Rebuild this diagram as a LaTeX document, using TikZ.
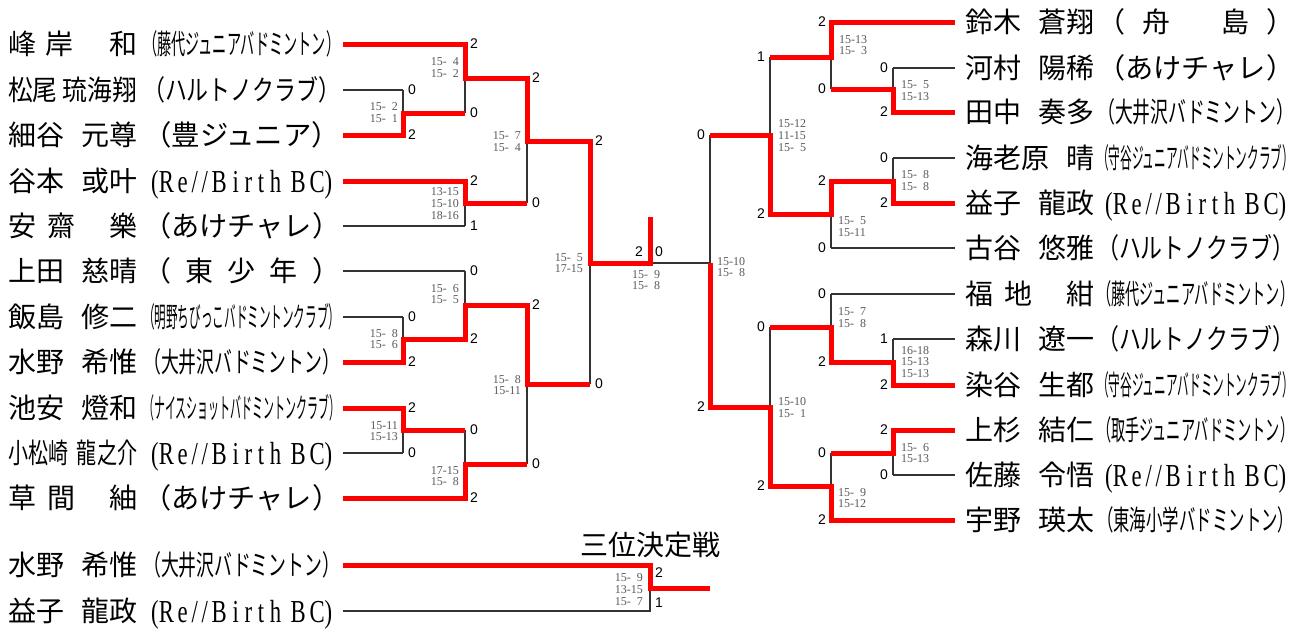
\documentclass[tikz,border=0pt]{standalone}
\usepackage{fontspec}
\usepackage{graphicx}
\setmainfont{Liberation Serif}
\newfontfamily\jp{Noto Sans CJK JP}
\newfontfamily\arl{Liberation Sans}
\newcommand\fsp{\hphantom{0}}
\newcommand\NM[2]{{\jp\fontsize{28}{28}\selectfont\hbox to 129pt{#1\hfil #2}}}
\newcommand\NMC[1]{{\jp\fontsize{28}{28}\selectfont\resizebox{129pt}{\height}{#1}}}
\newcommand\CLa[1]{{\jp\fontsize{28}{28}\selectfont\resizebox{197pt}{\height}{#1}}}
\newcommand\CLs[1]{{\jp\fontsize{28}{28}\selectfont\makebox[197pt][s]{#1}}}
\newcommand\CLr{{\fontsize{32}{32}\selectfont\makebox[197pt]{\raisebox{-0.6pt}{\resizebox{181pt}{\height}{(R\,e\,/\,/\,B\ i\ r\ t\ h\ \,B\,C)}}}}}
\begin{document}
\begin{tikzpicture}[x=1pt,y=-1pt,
  bl/.style={line width=1.3pt,black!80},
  rd/.style={line width=5pt,red,line join=miter},
  nm/.style={anchor=base west,inner sep=0},
  sl/.style={font=\arl\fontsize{14}{14}\selectfont,inner sep=0},
  stl/.style={font=\fontsize{12}{11.6}\selectfont,text=black!65,inner sep=0,align=right,anchor=east},
  str/.style={font=\fontsize{12}{11.6}\selectfont,text=black!65,inner sep=0,align=left,anchor=west}]
\useasboundingbox (0,0) rectangle (1305,630);

% ---------- left names ----------
\node[nm] (n1) at (8,54.5) {\NM{峰\hspace{9pt}岸}{和}};
\node[nm] (c1) at (143,54.5) {\CLa{（藤代ジュニアバドミントン）}};
\node[nm] (n2) at (8,100.5) {\NMC{松尾\hspace{6pt}琉海翔}};
\node[nm] (c2) at (143,100.5) {\CLa{（ハルトノクラブ）}};
\node[nm] (n3) at (8,145.5) {\NM{細谷}{元尊}};
\node[nm] (c3) at (143,145.5) {\CLa{（豊ジュニア）}};
\node[nm] (n4) at (8,191.5) {\NM{谷本}{或叶}};
\node[nm] (c4) at (143,191.5) {\CLr};
\node[nm] (n5) at (8,236.5) {\NM{安\hspace{11pt}齋}{樂}};
\node[nm] (c5) at (143,236.5) {\CLa{（あけチャレ）}};
\node[nm] (n6) at (8,281.5) {\NM{上田}{慈晴}};
\node[nm] (c6) at (143,281.5) {\CLs{（\hfill 東\hfill 少\hfill 年\hfill ）}};
\node[nm] (n7) at (8,327.5) {\NM{飯島}{修二}};
\node[nm] (c7) at (143,327.5) {\CLa{（明野ちびっこバドミントンクラブ）}};
\node[nm] (n8) at (8,372.5) {\NM{水野}{希惟}};
\node[nm] (c8) at (143,372.5) {\CLa{（大井沢バドミントン）}};
\node[nm] (n9) at (8,418.5) {\NM{池安}{燈和}};
\node[nm] (c9) at (143,418.5) {\CLa{（ナイスショットバドミントンクラブ）}};
\node[nm] (n10) at (8,463.5) {\NMC{小松崎\hspace{12pt}龍之介}};
\node[nm] (c10) at (143,463.5) {\CLr};
\node[nm] (n11) at (8,508.5) {\NM{草\hspace{11pt}間}{紬}};
\node[nm] (c11) at (143,508.5) {\CLa{（あけチャレ）}};
% third place names
\node[nm] (t1) at (8,575.5) {\NM{水野}{希惟}};
\node[nm] (tc1) at (143,575.5) {\CLa{（大井沢バドミントン）}};
\node[nm] (t2) at (8,621.5) {\NM{益子}{龍政}};
\node[nm] (tc2) at (143,621.5) {\CLr};
\node[font=\jp\fontsize{28}{28}\selectfont,anchor=base,inner sep=0] (title) at (650,555) {三位決定戦};

% ---------- right names ----------
\node[nm] (m1) at (965,32.5) {\NM{鈴木}{蒼翔}};
\node[nm] (d1) at (1097,32.5) {\CLs{（\hfill 舟\hfill\hfill\hfill 島\hfill ）}};
\node[nm] (m2) at (965,78.5) {\NM{河村}{陽稀}};
\node[nm] (d2) at (1097,78.5) {\CLa{（あけチャレ）}};
\node[nm] (m3) at (965,122.5) {\NM{田中}{奏多}};
\node[nm] (d3) at (1097,122.5) {\CLa{（大井沢バドミントン）}};
\node[nm] (m4) at (965,168.5) {\NM{海老原}{晴}};
\node[nm] (d4) at (1097,168.5) {\CLa{（守谷ジュニアバドミントンクラブ）}};
\node[nm] (m5) at (965,213.5) {\NM{益子}{龍政}};
\node[nm] (d5) at (1097,213.5) {\CLr};
\node[nm] (m6) at (965,258.5) {\NM{古谷}{悠雅}};
\node[nm] (d6) at (1097,258.5) {\CLa{（ハルトノクラブ）}};
\node[nm] (m7) at (965,304.5) {\NM{福\hspace{11pt}地}{紺}};
\node[nm] (d7) at (1097,304.5) {\CLa{（藤代ジュニアバドミントン）}};
\node[nm] (m8) at (965,349.5) {\NM{森川}{遼一}};
\node[nm] (d8) at (1097,349.5) {\CLa{（ハルトノクラブ）}};
\node[nm] (m9) at (965,395.5) {\NM{染谷}{生都}};
\node[nm] (d9) at (1097,395.5) {\CLa{（守谷ジュニアバドミントンクラブ）}};
\node[nm] (m10) at (965,440.5) {\NM{上杉}{結仁}};
\node[nm] (d10) at (1097,440.5) {\CLa{（取手ジュニアバドミントン）}};
\node[nm] (m11) at (965,485.5) {\NM{佐藤}{令悟}};
\node[nm] (d11) at (1097,485.5) {\CLr};
\node[nm] (m12) at (965,530.5) {\NM{宇野}{瑛太}};
\node[nm] (d12) at (1097,530.5) {\CLa{（東海小学バドミントン）}};

% ---------- black bracket lines ----------
% left
\draw[bl] (343,44)--(465,44) (343,90)--(403,90) (343,135)--(403,135)
  (343,181)--(465,181) (343,226)--(465,226) (343,271)--(465,271)
  (343,317)--(403,317) (343,362)--(403,362) (343,408)--(403,408)
  (343,453)--(403,453) (343,498)--(465,498);
\draw[bl] (403,90)--(403,135) (465,44)--(465,113) (465,181)--(465,226)
  (527,78)--(527,203) (465,271)--(465,339) (403,317)--(403,362)
  (403,408)--(403,453) (465,430)--(465,498) (527,305)--(527,464)
  (590,141)--(590,384);
\draw[bl] (403,113)--(465,113) (465,78)--(527,78) (465,203)--(527,203)
  (527,141)--(590,141) (403,339)--(465,339) (465,305)--(527,305)
  (403,430)--(465,430) (465,464)--(527,464) (527,384)--(590,384)
  (590,263)--(710,263);
% right
\draw[bl] (955,22)--(831,22) (955,68)--(893,68) (955,112)--(893,112)
  (955,158)--(893,158) (955,203)--(893,203) (955,248)--(831,248)
  (955,294)--(831,294) (955,339)--(893,339) (955,385)--(893,385)
  (955,430)--(893,430) (955,475)--(893,475) (955,520)--(831,520);
\draw[bl] (893,68)--(893,112) (831,22)--(831,89) (893,158)--(893,203)
  (831,181)--(831,248) (770,57)--(770,214) (831,294)--(831,362)
  (893,339)--(893,385) (893,430)--(893,475) (831,453)--(831,520)
  (770,327)--(770,486) (710,135)--(710,407);
\draw[bl] (893,89)--(831,89) (831,57)--(770,57) (893,181)--(831,181)
  (831,214)--(770,214) (770,135)--(710,135) (893,362)--(831,362)
  (831,327)--(770,327) (893,453)--(831,453) (831,486)--(770,486)
  (770,407)--(710,407);
% third place
\draw[bl] (343,611)--(650,611)--(650,565);

% ---------- red winner lines ----------
\draw[rd] (343,44)--(465,44)--(465,78)--(527,78)--(527,141)--(590,141)--(590,263)--(650,263)--(650,217);
\draw[rd] (343,135)--(403,135)--(403,113)--(465,113);
\draw[rd] (343,181)--(465,181)--(465,203)--(527,203);
\draw[rd] (343,362)--(403,362)--(403,339)--(465,339)--(465,305)--(527,305)--(527,384)--(590,384);
\draw[rd] (343,408)--(403,408)--(403,430)--(465,430);
\draw[rd] (343,498)--(465,498)--(465,464)--(527,464);
\draw[rd] (955,22)--(831,22)--(831,57)--(770,57);
\draw[rd] (955,112)--(893,112)--(893,89)--(831,89);
\draw[rd] (955,203)--(893,203)--(893,181)--(831,181)--(831,214)--(770,214)--(770,135)--(710,135);
\draw[rd] (955,385)--(893,385)--(893,362)--(831,362)--(831,327)--(770,327);
\draw[rd] (955,430)--(893,430)--(893,453)--(831,453);
\draw[rd] (955,520)--(831,520)--(831,486)--(770,486)--(770,407)--(710,407)--(710,263);
\draw[rd] (343,565)--(650,565)--(650,588)--(710,588);

% ---------- game scores (left) ----------
\foreach \x/\y/\s in {408/90/0,408/135/2,470/44/2,470/113/0,532/78/2,532/203/0,
  470/181/2,470/226/1,595/141/2,595/384/0,470/271/0,470/339/2,408/317/0,408/362/2,
  532/305/2,532/464/0,408/408/2,408/453/0,470/430/0,470/498/2,655/252/0,655/573/2,655/603/1}
  \node[sl,anchor=west] at (\x,\y) {\s};
\node[sl,anchor=east] at (643,252) {2};
% ---------- game scores (right) ----------
\foreach \x/\y/\s in {888/68/0,888/112/2,826/22/2,826/89/0,765/57/1,765/214/2,
  888/158/0,888/203/2,826/181/2,826/248/0,705/135/0,705/407/2,826/294/0,826/362/2,
  888/339/1,888/385/2,765/327/0,765/486/2,888/430/2,888/475/0,826/453/0,826/520/2}
  \node[sl,anchor=east] at (\x,\y) {\s};

% ---------- match scores ----------
\node[stl] at (398,112.5) {15-\fsp2\\15-\fsp1};
\node[stl] at (459,67.5) {15-\fsp4\\15-\fsp2};
\node[stl] at (521,141.5) {15-\fsp7\\15-\fsp4};
\node[stl] at (459,203.5) {13-15\\15-10\\18-16};
\node[stl] at (459,294) {15-\fsp6\\15-\fsp5};
\node[stl] at (398,339) {15-\fsp8\\15-\fsp6};
\node[stl] at (521,385) {15-\fsp8\\15-11};
\node[stl] at (398,431) {15-11\\15-13};
\node[stl] at (459,476) {17-15\\15-\fsp8};
\node[stl] at (583,263) {15-\fsp5\\17-15};
\node[stl,anchor=center,align=center] at (646,280) {15-\fsp9\\15-\fsp8};
\node[stl] at (643,589.5) {15-\fsp9\\13-15\\15-\fsp7};
\node[str] at (839,45) {15-13\\15-\fsp3};
\node[str] at (901,90.5) {15-\fsp5\\15-13};
\node[str] at (778,135.5) {15-12\\11-15\\15-\fsp5};
\node[str] at (901,180.5) {15-\fsp8\\15-\fsp8};
\node[str] at (838,226.5) {15-\fsp5\\15-11};
\node[str] at (717,267) {15-10\\15-\fsp8};
\node[str] at (838,317.5) {15-\fsp7\\15-\fsp8};
\node[str] at (901,362) {16-18\\15-13\\15-13};
\node[str] at (778,407.5) {15-10\\15-\fsp1};
\node[str] at (901,453) {15-\fsp6\\15-13};
\node[str] at (838,498) {15-\fsp9\\15-12};
\end{tikzpicture}
\end{document}
